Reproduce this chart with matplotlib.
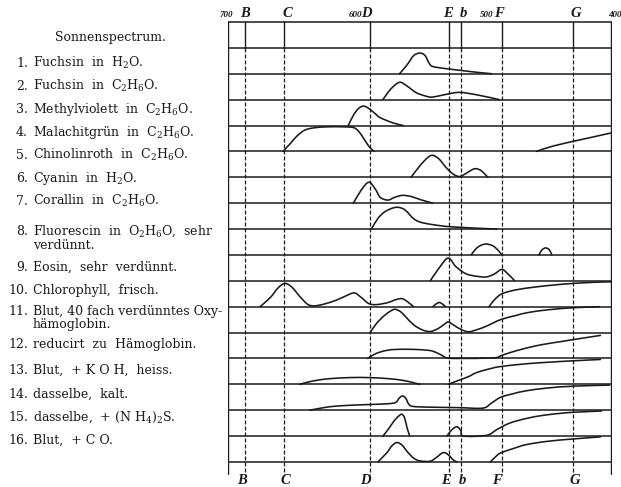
import matplotlib
matplotlib.use('Agg')
import matplotlib.pyplot as plt
from matplotlib.path import Path
from matplotlib.patches import PathPatch

plt.rcParams['font.family'] = ['DejaVu Serif', 'Liberation Serif']
plt.rcParams['mathtext.fontset'] = 'custom'
plt.rcParams['mathtext.rm'] = 'DejaVu Serif'
plt.rcParams['mathtext.it'] = 'DejaVu Serif:italic'

# ---------------- data ----------------
line_names = ['B', 'C', 'D', 'E', 'b', 'F', 'G']
line_nm = [686.7, 656.3, 589.0, 527.0, 518.0, 486.1, 430.8]
top_label_nm = [686.7, 654.0, 591.6, 528.0, 516.0, 488.0, 428.0]
bottom_label_nm = [689.0, 655.5, 593.0, 529.7, 516.6, 489.6, 428.9]
scale_nm = [700, 600, 500, 400]
scale_label_nm = [701.0, 600.8, 498.0, 397.7]

header = 'Sonnenspectrum.'
numbers = ['1.', '2.', '3.', '4.', '5.', '6.', '7.', '8.', '9.', '10.',
           '11.', '12.', '13.', '14.', '15.', '16.']
names = [
    ['Fuchsin  in  H$_2$O.'],
    ['Fuchsin  in  C$_2$H$_6$O.'],
    ['Methylviolett  in  C$_2$H$_6$O.'],
    ['Malachitgrün  in  C$_2$H$_6$O.'],
    ['Chinolinroth  in  C$_2$H$_6$O.'],
    ['Cyanin  in  H$_2$O.'],
    ['Corallin  in  C$_2$H$_6$O.'],
    ['Fluorescin  in  O$_2$H$_6$O,  sehr', 'verdünnt.'],
    ['Eosin,  sehr  verdünnt.'],
    ['Chlorophyll,  frisch.'],
    ['Blut, 40 fach verdünntes Oxy-', 'hämoglobin.'],
    ['reducirt  zu  Hämoglobin.'],
    ['Blut,  + K O H,  heiss.'],
    ['dasselbe,  kalt.'],
    ['dasselbe,  + (N H$_4$)$_2$S.'],
    ['Blut,  + C O.'],
]

# absorption curves: per row, list of segments of (wavelength nm, height in row units)
curves = {
    1: [[(566, 0), (560, 0.35), (555, 0.7), (550, 0.8), (546, 0.7), (543, 0.42),
         (540, 0.28), (530, 0.2), (520, 0.14), (508, 0.07), (498, 0.02), (494, 0)]],
    2: [[(579, 0), (573, 0.4), (566, 0.67), (560, 0.52), (553, 0.27), (545, 0.13),
         (540, 0.1), (530, 0.2), (519, 0.28), (505, 0.18), (488, 0)]],
    3: [[(606, 0), (602, 0.4), (598, 0.66), (594, 0.75), (590, 0.66), (585, 0.46),
         (581, 0.3), (571, 0.1), (563, 0)]],
    4: [[(657, 0), (651, 0.32), (646, 0.6), (640, 0.82), (633, 0.91), (622, 0.95),
         (610, 0.95), (602, 0.92), (598, 0.78), (594, 0.5), (590, 0.2), (586, 0)],
        [(459, 0), (445, 0.22), (420, 0.5), (400, 0.72)]],
    5: [[(557, 0), (550, 0.45), (544, 0.76), (540, 0.85), (535, 0.7), (530, 0.4),
         (524, 0.12), (519, 0.03), (514, 0.15), (509, 0.3), (506, 0.33), (502, 0.25),
         (497, 0)]],
    6: [[(602, 0), (596, 0.5), (590, 0.81), (585, 0.55), (581, 0.22), (575, 0.12),
         (570, 0.22), (564, 0.3), (557, 0.26), (550, 0.14), (540, 0)]],
    7: [[(588, 0), (583, 0.4), (578, 0.65), (572, 0.8), (567, 0.84), (562, 0.75),
         (558, 0.55), (555, 0.4), (550, 0.27), (540, 0.17), (524, 0.08), (490, 0)]],
    8: [[(510, 0), (506, 0.25), (502, 0.38), (498, 0.42), (493, 0.35), (489, 0.18),
         (486, 0)],
        [(457, 0), (455, 0.18), (452, 0.27), (449, 0.2), (447, 0)]],
    9: [[(542, 0), (535, 0.5), (528, 0.88), (522, 0.55), (514, 0.27), (505, 0.17),
         (498, 0.15), (492, 0.26), (486, 0.44), (481, 0.25), (476, 0)]],
    10: [[(675, 0), (667, 0.35), (661, 0.72), (655.5, 0.9), (650, 0.75), (644, 0.4),
          (638, 0.1), (633, 0.03), (625, 0.1), (615, 0.26), (606, 0.46), (601, 0.53),
          (596, 0.36), (590, 0.12), (584, 0.08), (575, 0.16), (569, 0.27), (564, 0.31),
          (560, 0.2), (555, 0)],
         [(540, 0), (537, 0.12), (535, 0.16), (533, 0.12), (530, 0)],
         [(496, 0), (493, 0.2), (489, 0.4), (485, 0.52), (475, 0.65), (460, 0.76),
          (445, 0.84), (430, 0.9), (415, 0.94), (401, 0.96)]],
    11: [[(589, 0), (584, 0.35), (578, 0.65), (573, 0.83), (569.5, 0.9), (565, 0.8),
          (561, 0.6), (555, 0.3), (548, 0.1), (542, 0.04), (536, 0.15), (531, 0.32),
          (528, 0.41), (524, 0.3), (518, 0.12), (512, 0.03), (505, 0.12), (498, 0.25),
          (487, 0.5), (475, 0.66), (466, 0.77), (450, 0.88), (430, 0.96), (410, 1.0)]],
    12: [[(591, 0), (586, 0.15), (581, 0.25), (575, 0.32), (568, 0.35), (555, 0.35),
          (545, 0.32), (540, 0.28), (534, 0.15), (529, 0.02), (520, 0), (493, 0.02),
          (487, 0.1), (480, 0.22), (467, 0.4), (454, 0.54), (440, 0.65), (430, 0.73),
          (409, 0.89)]],
    13: [[(644, 0), (638, 0.08), (630, 0.16), (620, 0.22), (605, 0.26), (590, 0.26),
          (575, 0.22), (563, 0.15), (555, 0.06), (550, 0)],
         [(528, 0), (520, 0.15), (512, 0.3), (506, 0.45), (497, 0.58), (488, 0.68),
          (470, 0.78), (454, 0.84), (430, 0.91), (409, 0.96)]],
    14: [[(636, 0), (625, 0.1), (615, 0.16), (600, 0.2), (589, 0.22), (575, 0.25),
          (569, 0.3), (566, 0.48), (563.5, 0.55), (561, 0.45), (559, 0.25), (556, 0.15),
          (545, 0.12), (520, 0.1), (501, 0.08), (494, 0.28), (487, 0.5), (477, 0.64),
          (467, 0.75), (450, 0.86), (430, 0.93), (402, 0.97)]],
    15: [[(579, 0), (575, 0.25), (570, 0.6), (566, 0.8), (564, 0.84), (562, 0.7),
          (560, 0.3), (558, 0)],
         [(529, 0), (525, 0.25), (521, 0.36), (518, 0.2), (516, 0), (498, 0.03),
          (490, 0.25), (480, 0.5), (467, 0.68), (454, 0.8), (440, 0.88), (430, 0.92),
          (408, 0.97)]],
    16: [[(583, 0), (576, 0.35), (572, 0.62), (568, 0.75), (564, 0.65), (560, 0.4),
          (555, 0.15), (550, 0.04), (542, 0.03), (537, 0.18), (532, 0.36), (528, 0.28),
          (524, 0.08), (521, 0)],
         [(495, 0), (491, 0.2), (487, 0.35), (477, 0.52), (467, 0.67), (450, 0.8),
          (430, 0.89), (409, 0.97)]],
}

# ---------------- layout ----------------
W, H = 621, 487
INK = '#1a1a1a'
fig = plt.figure(figsize=(W / 100, H / 100), dpi=100)
fig.patch.set_facecolor('white')

x0, x1 = 228, 612          # frame pixels
top_px, row_px = 22.0, 25.88
ax = fig.add_axes([x0 / W, 0, (x1 - x0) / W, 1])
ax.set_xlim(700, 400)
ax.set_ylim(-1 + (H - top_px) / row_px, -1 - top_px / row_px)
ax.axis('off')

nrows = len(numbers)
bottom_ext = nrows + 0.5

# horizontal lines
for k in range(-1, nrows + 1):
    ax.plot([700, 400], [k, k], color=INK, lw=1.1, solid_capstyle='butt')
# frame
for xv in (700, 400):
    ax.plot([xv, xv], [-1, bottom_ext], color=INK, lw=1.7, solid_capstyle='butt')
# Fraunhofer lines
for nm in line_nm:
    ax.plot([nm, nm], [-1, 0], color=INK, lw=1.0)
    ax.plot([nm, nm], [0, bottom_ext], color=INK, lw=0.9, dashes=(3.2, 1.6))


def bezier_path(pts, row):
    P = [(x, row - h) for x, h in pts]
    n = len(P)
    verts = [P[0]]
    codes = [Path.MOVETO]
    for i in range(n - 1):
        p0 = P[i - 1] if i > 0 else P[i]
        p1 = P[i]
        p2 = P[i + 1]
        p3 = P[i + 2] if i + 2 < n else P[i + 1]
        c1 = (p1[0] + (p2[0] - p0[0]) / 6, p1[1] + (p2[1] - p0[1]) / 6)
        c2 = (p2[0] - (p3[0] - p1[0]) / 6, p2[1] - (p3[1] - p1[1]) / 6)
        verts += [c1, c2, p2]
        codes += [Path.CURVE4] * 3
    return Path(verts, codes)


for row, segs in curves.items():
    for seg in segs:
        ax.add_patch(PathPatch(bezier_path(seg, row), fill=False, edgecolor=INK,
                               lw=1.15, capstyle='round', joinstyle='round'))

# top / bottom letters
ytop = -1 - 8 / row_px
ybot = nrows + 19 / row_px
for name, nt, nb in zip(line_names, top_label_nm, bottom_label_nm):
    ax.text(nt, ytop, name, ha='center', va='center', fontsize=10.5,
            fontstyle='italic', fontweight='bold', color=INK,
            family='Liberation Serif')
    ax.text(nb, ybot, name, ha='center', va='center', fontsize=10.5,
            fontstyle='italic', fontweight='bold', color=INK,
            family='Liberation Serif')
for nm, xl in zip(scale_nm, scale_label_nm):
    ax.text(xl, ytop + 0.03, str(nm), ha='center', va='center', fontsize=6.5,
            fontstyle='italic', fontweight='bold', color=INK,
            family='Liberation Serif')

# left column text (pixel placement; the print's own line spacing)
def fy(py):
    return 1 - py / H

header_y = 37
label_y = [[63], [86], [109], [132], [155], [178], [201], [231, 245], [267], [290],
           [311, 324], [344], [370], [394], [417], [440]]
base_off = 3.8   # centre -> baseline offset in pixels

fs = 9.0
fig.text(110 / W, fy(header_y + base_off), header, ha='center', va='baseline',
         fontsize=fs, color=INK)
for num, lines, ys in zip(numbers, names, label_y):
    fig.text(28 / W, fy(ys[0] + base_off), num, ha='right', va='baseline',
             fontsize=fs, color=INK)
    for t, yy in zip(lines, ys):
        fig.text(33 / W, fy(yy + base_off), t, ha='left', va='baseline',
                 fontsize=fs, color=INK)

fig.savefig('out.png', dpi=100, facecolor='white')
